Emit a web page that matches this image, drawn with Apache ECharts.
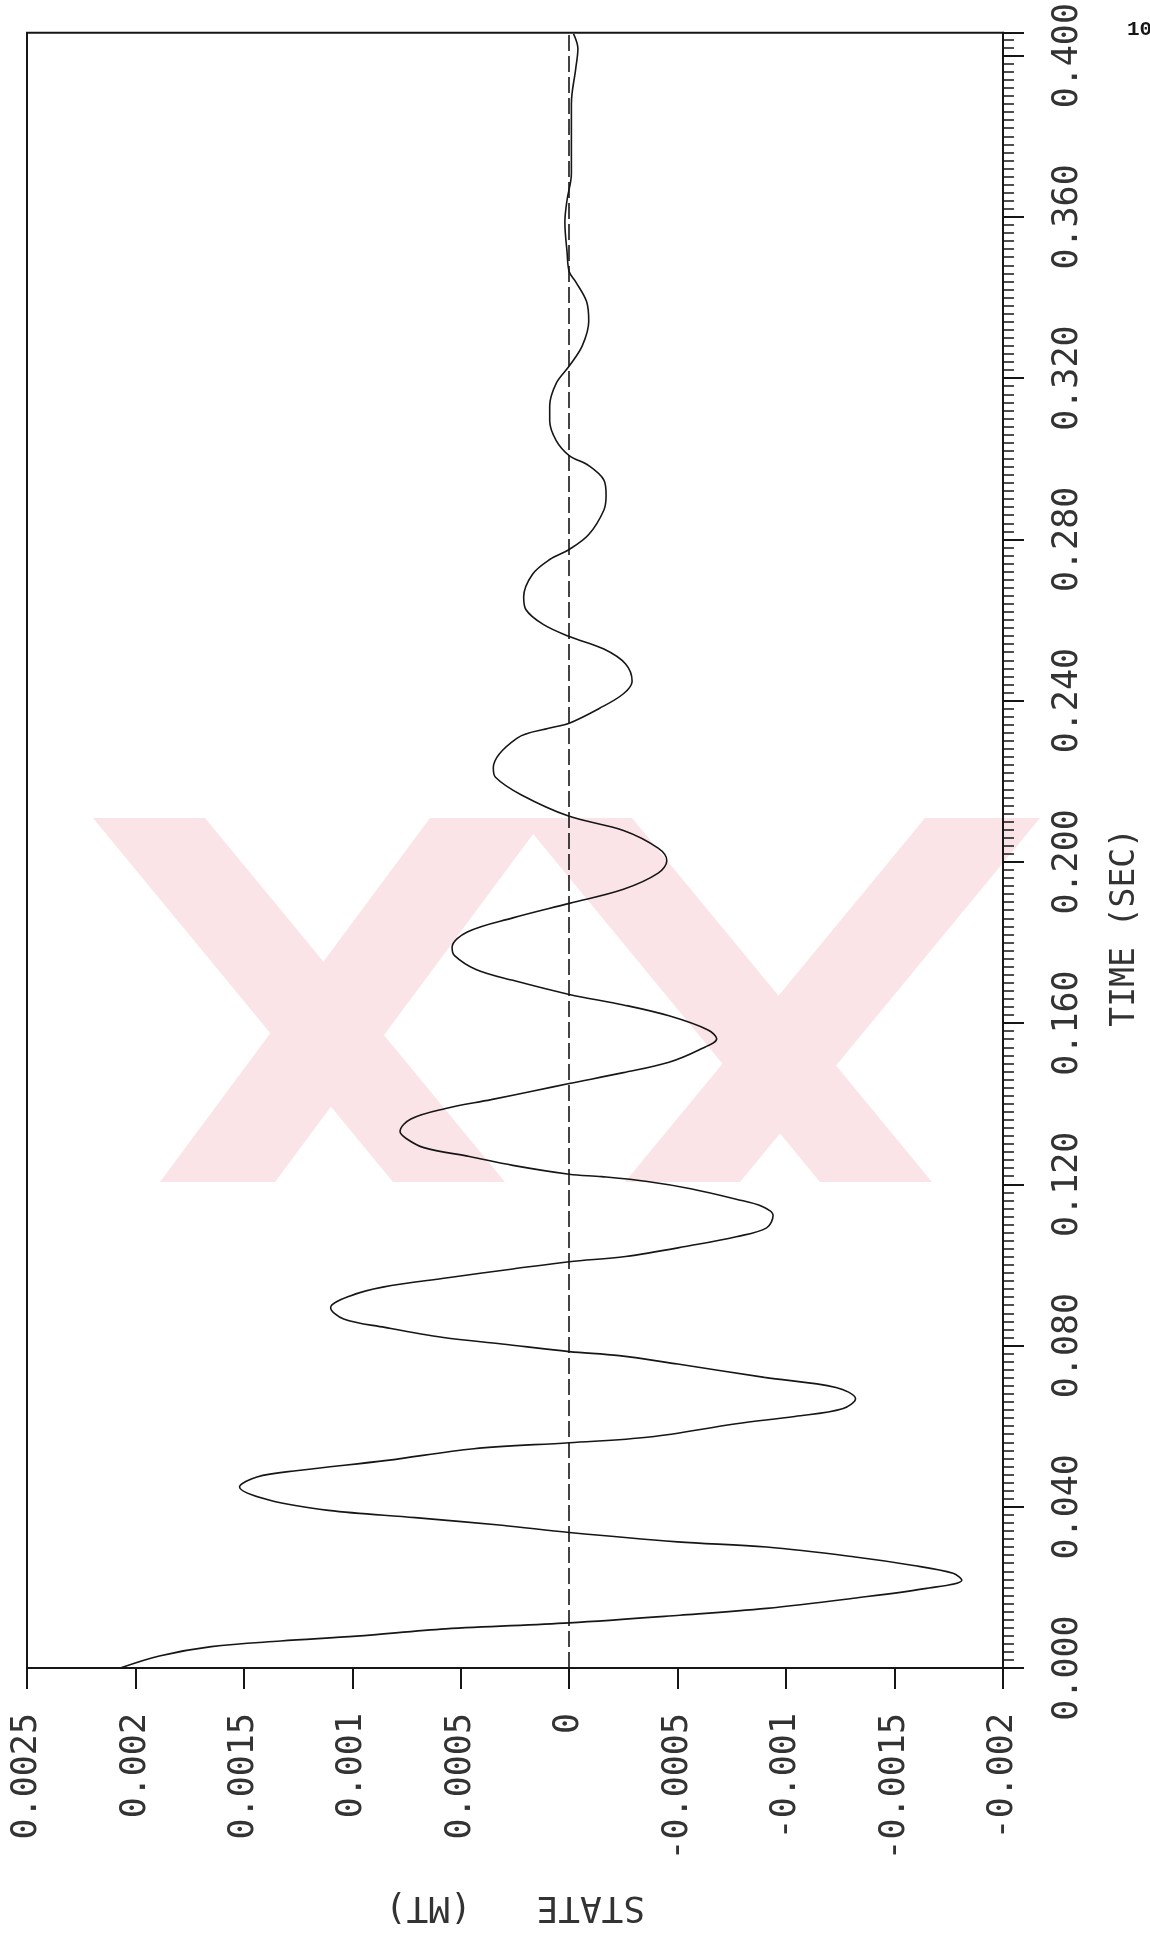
<!DOCTYPE html>
<html>
<head>
<meta charset="utf-8">
<script src="https://cdn.jsdelivr.net/npm/echarts@6/dist/echarts.min.js"></script>
<style>
  html, body { margin: 0; padding: 0; background: #ffffff; }
  #chart { width: 1150px; height: 1940px; }
</style>
</head>
<body>
<div id="chart"></div>
<script>
// Damped response of the state variable over time (seconds vs MT)
const timeSec = [
  0.0000, 0.0030, 0.0053, 0.0067, 0.0079, 0.0097, 0.0112, 0.0131, 0.0148, 0.0173,
  0.0197, 0.0218, 0.0235, 0.0255, 0.0276, 0.0300, 0.0313, 0.0336, 0.0354, 0.0373,
  0.0391, 0.0416, 0.0449, 0.0474, 0.0490, 0.0515, 0.0544, 0.0559, 0.0573, 0.0606,
  0.0624, 0.0643, 0.0668, 0.0696, 0.0721, 0.0754, 0.0775, 0.0785, 0.0804, 0.0820,
  0.0845, 0.0866, 0.0894, 0.0923, 0.0945, 0.0968, 0.0990, 0.1008, 0.1021, 0.1048,
  0.1070, 0.1092, 0.1123, 0.1145, 0.1163, 0.1189, 0.1207, 0.1219, 0.1225, 0.1247,
  0.1269, 0.1291, 0.1313, 0.1331, 0.1362, 0.1388, 0.1410, 0.1432, 0.1450, 0.1477,
  0.1503, 0.1534, 0.1561, 0.1583, 0.1618, 0.1645, 0.1671, 0.1706, 0.1733, 0.1768,
  0.1788, 0.1826, 0.1861, 0.1897, 0.1932, 0.1972, 0.2003, 0.2034, 0.2078, 0.2113,
  0.2166, 0.2210, 0.2233, 0.2307, 0.2332, 0.2344, 0.2381, 0.2417, 0.2448, 0.2491,
  0.2528, 0.2559, 0.2589, 0.2626, 0.2657, 0.2713, 0.2750, 0.2775, 0.2812, 0.2873,
  0.2910, 0.2947, 0.2983, 0.3008, 0.3045, 0.3094, 0.3131, 0.3187, 0.3230, 0.3280,
  0.3341, 0.3390, 0.3439, 0.3464, 0.3513, 0.3587, 0.3642, 0.3708, 0.3782, 0.3881,
  0.3968, 0.4017, 0.4054
];
const stateMT = [
  0.00207, 0.00189, 0.00165, 0.00133, 0.00098, 0.00057, 0.00000, -0.00051, -0.00091, -0.00131,
  -0.00164, -0.00181, -0.00177, -0.00158, -0.00131, -0.00091, -0.00050, 0.00000, 0.00031, 0.00071,
  0.00111, 0.00138, 0.00152, 0.00144, 0.00125, 0.00084, 0.00044, 0.00000, -0.00037, -0.00077,
  -0.00104, -0.00126, -0.00132, -0.00123, -0.00090, -0.00050, -0.00023, 0.00000, 0.00031, 0.00058,
  0.00085, 0.00104, 0.00110, 0.00101, 0.00086, 0.00056, 0.00026, 0.00000, -0.00026, -0.00056,
  -0.00077, -0.00091, -0.00094, -0.00089, -0.00077, -0.00056, -0.00036, -0.00015, 0.00000, 0.00026,
  0.00046, 0.00067, 0.00075, 0.00078, 0.00073, 0.00057, 0.00036, 0.00016, 0.00000, -0.00025,
  -0.00046, -0.00060, -0.00068, -0.00064, -0.00046, -0.00025, 0.00000, 0.00026, 0.00043, 0.00053,
  0.00054, 0.00047, 0.00026, 0.00000, -0.00025, -0.00041, -0.00045, -0.00041, -0.00025, 0.00000,
  0.00022, 0.00034, 0.00035, 0.00024, 0.00009, 0.00000, -0.00014, -0.00025, -0.00029, -0.00026,
  -0.00016, 0.00000, 0.00012, 0.00020, 0.00021, 0.00017, 0.00009, 0.00000, -0.00009, -0.00016,
  -0.00017, -0.00016, -0.00009, 0.00000, 0.00006, 0.00009, 0.00009, 0.00006, 0.00000, -0.00006,
  -0.00009, -0.00008, -0.00003, 0.00000, 0.00001, 0.00002, 0.00001, -0.00001, -0.00001, -0.00001,
  -0.00003, -0.00004, -0.00002
];

// Tick labels
const timeTicks = ['0.000', '0.040', '0.080', '0.120', '0.160', '0.200',
                   '0.240', '0.280', '0.320', '0.360', '0.400'];
const stateTicks = ['0.0025', '0.002', '0.0015', '0.001', '0.0005', '0',
                    '-0.0005', '-0.001', '-0.0015', '-0.002'];

const TIME_STEP = 0.04, TIME_MINOR = 0.002, TIME_MAX = 0.4057;
const STATE_MAX = 0.0025, STATE_MIN = -0.002, STATE_STEP = 0.0005;

const INK = '#161616';
const TEXT_INK = '#333333';
const MONO = '"DejaVu Sans Mono", "Liberation Mono", monospace';

function timeLabel(v) {
  const i = Math.round(v / TIME_STEP);
  return Math.abs(v - i * TIME_STEP) < 1e-6 && timeTicks[i] !== undefined ? timeTicks[i] : '';
}
function stateLabel(v) {
  const i = Math.round((STATE_MAX - v) / STATE_STEP);
  return Math.abs(STATE_MAX - i * STATE_STEP - v) < 1e-9 && stateTicks[i] !== undefined ? stateTicks[i] : '';
}

// Light pink "XX" stamp behind the plot (flat colour, overlaps not darkened)
const stampColor = '#fbe4e8';
const stampBands = [
  [[93, 818], [205, 818], [505, 1182], [393, 1182]],
  [[430, 818], [545, 818], [275, 1182], [160, 1182]],
  [[520, 818], [632, 818], [932, 1182], [820, 1182]],
  [[925, 818], [1040, 818], [740, 1182], [625, 1182]]
];

const chart = echarts.init(document.getElementById('chart'), null, { renderer: 'canvas' });

chart.setOption({
  backgroundColor: '#ffffff',
  animation: false,
  grid: {
    left: 27, right: 144, top: 25, bottom: 272,
    show: true, borderColor: INK, borderWidth: 2, backgroundColor: 'transparent'
  },
  graphic: [
    ...stampBands.map(pts => ({
      type: 'polygon', z: -10, silent: true,
      shape: { points: pts },
      style: { fill: stampColor }
    })),
    {
      type: 'text', left: 1127, top: 19, z: 5,
      style: { text: '10', font: 'bold 21px "Liberation Mono", monospace', fill: INK }
    }
  ],
  xAxis: {
    type: 'value',
    inverse: true,
    min: STATE_MIN, max: STATE_MAX, interval: STATE_STEP,
    position: 'bottom',
    axisLine: { show: true, onZero: false, lineStyle: { color: INK, width: 2 } },
    axisTick: { show: true, length: 21, lineStyle: { color: INK, width: 2 } },
    splitLine: { show: false },
    axisLabel: {
      rotate: 90, margin: 45, formatter: stateLabel,
      fontFamily: MONO, fontSize: 35, color: TEXT_INK
    },
    name: 'STATE   (MT)',
    nameLocation: 'middle', nameRotate: 180, nameGap: 220,
    nameTextStyle: { fontFamily: MONO, fontSize: 36, color: TEXT_INK }
  },
  yAxis: [
    {
      type: 'value',
      position: 'right',
      min: 0, max: TIME_MAX, interval: TIME_STEP,
      axisLine: { show: true, onZero: false, lineStyle: { color: INK, width: 2 } },
      axisTick: { show: true, length: 21, lineStyle: { color: INK, width: 2 } },
      splitLine: { show: false },
      axisLabel: {
        rotate: 90, margin: 47, formatter: timeLabel,
        fontFamily: MONO, fontSize: 35, color: TEXT_INK
      },
      name: 'TIME (SEC)',
      nameLocation: 'middle', nameRotate: 90, nameGap: 106,
      nameTextStyle: { fontFamily: MONO, fontSize: 33, color: TEXT_INK, padding: [0, 154, 0, 0] }
    },
    {
      type: 'value',
      position: 'right',
      min: 0, max: TIME_MAX, interval: TIME_MINOR,
      axisLine: { show: false, onZero: false },
      axisTick: { show: true, length: 11, lineStyle: { color: INK, width: 1.5 } },
      axisLabel: { show: false },
      splitLine: { show: false }
    }
  ],
  series: [{
    type: 'line',
    name: 'STATE',
    xAxisIndex: 0, yAxisIndex: 0,
    data: timeSec.map((t, i) => [stateMT[i], t]),
    showSymbol: false,
    smooth: 0.35,
    lineStyle: { color: INK, width: 1.6 },
    z: 3,
    markLine: {
      silent: true, symbol: 'none', animation: false,
      label: { show: false },
      lineStyle: { color: INK, width: 1.6, type: [16, 5] },
      data: [{ xAxis: 0 }]
    }
  }]
});
</script>
</body>
</html>
